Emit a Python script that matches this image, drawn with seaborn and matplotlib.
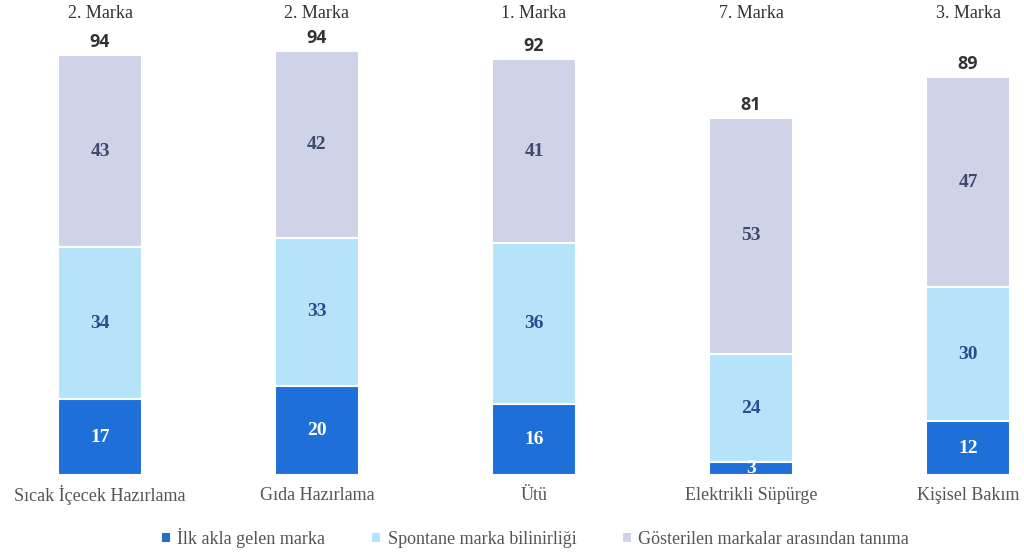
import matplotlib
matplotlib.use("Agg")
import matplotlib.pyplot as plt
import seaborn as sns
import pandas as pd
from matplotlib.patches import Patch

categories = ["Sıcak İçecek Hazırlama", "Gıda Hazırlama", "Ütü", "Elektrikli Süpürge", "Kişisel Bakım"]
ranks = ["2. Marka", "2. Marka", "1. Marka", "7. Marka", "3. Marka"]
ilk_akla = [17, 20, 16, 3, 12]
spontane = [34, 33, 36, 24, 30]
gosterilen = [43, 42, 41, 53, 47]
totals = [94, 94, 92, 81, 89]
series_names = ["İlk akla gelen marka", "Spontane marka bilinirliği", "Gösterilen markalar arasından tanıma"]

colors = ["#1f6fd8", "#b5e4fa", "#cfd3e8"]
label_colors = ["white", "#2b4d8f", "#3d4a6e"]

sns.set_theme(style="white")
plt.rcParams['font.family'] = ['Liberation Serif', 'DejaVu Serif']

df = pd.DataFrame({"cat": categories, "a": ilk_akla, "b": spontane, "c": gosterilen})
df["ab"] = df["a"] + df["b"]
df["abc"] = df["ab"] + df["c"]

fig = plt.figure(figsize=(10.24, 5.55), dpi=100)
ax = fig.add_axes([0, 0.144, 1, 0.856])

width = 0.387
for col, color in zip(["abc", "ab", "a"], colors[::-1]):
    sns.barplot(data=df, x="cat", y=col, color=color, width=width, ax=ax,
                edgecolor="white", linewidth=1.5, saturation=1)

ax.set_xlim(-0.461, 4.258)
ax.set_ylim(0, 106.3)
ax.axis("off")

for i in range(len(categories)):
    segs = [ilk_akla[i], spontane[i], gosterilen[i]]
    bottom = 0
    for j, v in enumerate(segs):
        ax.text(i, bottom + v / 2, str(v), ha="center", va="center",
                fontsize=14, fontweight="bold", color=label_colors[j])
        bottom += v
    ax.text(i, bottom + 2.9, str(totals[i]), ha="center", va="center",
            fontsize=13, fontweight="bold", color="#333333", family=["Open Sans", "DejaVu Sans"])
    fig.text((100 + 217 * i) / 1024, 1 - 14 / 555, ranks[i], ha="center", va="center",
             fontsize=13, color="#333333")
    fig.text((100 + 217 * i) / 1024, 1 - 495 / 555, categories[i], ha="center", va="center",
             fontsize=13, color="#555555")

handles = [Patch(facecolor=c, edgecolor="none") for c in colors]
fig.legend(handles, series_names, loc="center", bbox_to_anchor=(0.523, 1 - 538 / 555),
           ncol=3, frameon=False, fontsize=13, handlelength=0.45, handleheight=0.45,
           columnspacing=2.6, handletextpad=0.4, labelcolor="#555555")

fig.savefig("out.png", dpi=100)
